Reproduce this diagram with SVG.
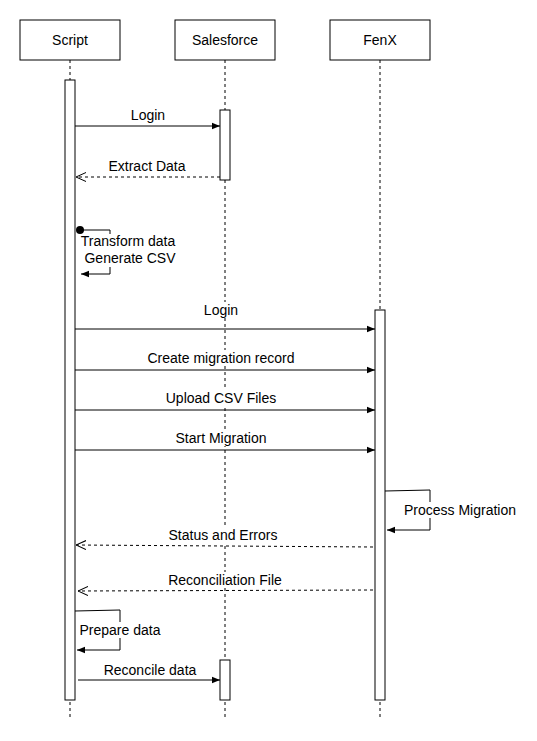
<svg xmlns="http://www.w3.org/2000/svg" width="537" height="741" viewBox="0 0 537 741">
<style>
text{font-family:"Liberation Sans",Arial,sans-serif;font-size:14px;fill:#000;text-anchor:middle}
.box{fill:#fff;stroke:#000;stroke-width:1}
.life{stroke:#000;stroke-width:1;stroke-dasharray:3,3;fill:none}
.msg{stroke:#000;stroke-width:1;fill:none}
.ret{stroke:#000;stroke-width:1;fill:none;stroke-dasharray:3,3}
.bg{fill:#fff;stroke:none}
</style>
<defs>
<marker id="fa" viewBox="0 0 10 10" refX="10" refY="5" markerWidth="8" markerHeight="8" orient="auto" markerUnits="userSpaceOnUse"><path d="M0,1 L10,5 L0,9 Z" fill="#000"/></marker>
<marker id="oa" viewBox="0 0 10 10" refX="10" refY="5" markerWidth="10" markerHeight="10" orient="auto" markerUnits="userSpaceOnUse"><path d="M0,0.5 L10,5 L0,9.5" fill="none" stroke="#000" stroke-width="1"/></marker>
</defs>
<g id="lifelines">
<line class="life" x1="70" y1="60" x2="70" y2="718"/>
<line class="life" x1="225" y1="60" x2="225" y2="718"/>
<line class="life" x1="380" y1="60" x2="380" y2="718"/>
</g>
<g id="script"><rect class="box" x="20" y="20" width="100" height="40"/><text x="70" y="45">Script</text></g>
<g id="salesforce"><rect class="box" x="175" y="20" width="100" height="40"/><text x="225" y="45">Salesforce</text></g>
<g id="fenx"><rect class="box" x="330" y="20" width="100" height="40"/><text x="380" y="45">FenX</text></g>
<g id="activations">
<rect class="box" x="65" y="80" width="10" height="620"/>
<rect class="box" x="220" y="110" width="10" height="70"/>
<rect class="box" x="220" y="660" width="10" height="40"/>
<rect class="box" x="375" y="310" width="10" height="390"/>
</g>
<g id="connectors">
<line class="msg" x1="75" y1="126" x2="220" y2="126" marker-end="url(#fa)"/>
<line class="ret" x1="220" y1="177" x2="76" y2="177" marker-end="url(#oa)"/>
<circle cx="80" cy="230" r="4" fill="#000"/>
<polyline class="msg" points="80,230 110,230 110,274 81,274" marker-end="url(#fa)"/>
<line class="msg" x1="75" y1="329" x2="375" y2="329" marker-end="url(#fa)"/>
<line class="msg" x1="75" y1="370" x2="375" y2="370" marker-end="url(#fa)"/>
<line class="msg" x1="75" y1="410" x2="375" y2="410" marker-end="url(#fa)"/>
<line class="msg" x1="75" y1="450" x2="375" y2="450" marker-end="url(#fa)"/>
<polyline class="msg" points="385,491 430,490 430,530 387,530" marker-end="url(#fa)"/>
<line class="ret" x1="373" y1="547" x2="76" y2="545" marker-end="url(#oa)"/>
<line class="ret" x1="373" y1="590" x2="78" y2="591" marker-end="url(#oa)"/>
<polyline class="msg" points="75,611 120,610 120,650 77,650" marker-end="url(#fa)"/>
<line class="msg" x1="78" y1="680" x2="220" y2="680" marker-end="url(#fa)"/>
</g>
<g id="labels">
<rect class="bg" x="129" y="107" width="38" height="16"/><text x="148" y="120">Login</text>
<rect class="bg" x="108" y="158" width="78" height="16"/><text x="147" y="171">Extract Data</text>
<rect class="bg" x="81" y="234" width="95" height="33"/>
<text x="128" y="246">Transform data</text>
<text x="130" y="263">Generate CSV</text>
<rect class="bg" x="203" y="302" width="36" height="16"/><text x="221" y="315">Login</text>
<rect class="bg" x="144" y="350" width="154" height="16"/><text x="221" y="363">Create migration record</text>
<rect class="bg" x="166" y="390" width="110" height="16"/><text x="221" y="403">Upload CSV Files</text>
<rect class="bg" x="172" y="430" width="98" height="16"/><text x="221" y="443">Start Migration</text>
<rect class="bg" x="403" y="502" width="114" height="16"/><text x="460" y="515">Process Migration</text>
<rect class="bg" x="168" y="527" width="110" height="16"/><text x="223" y="540">Status and Errors</text>
<rect class="bg" x="167" y="572" width="117" height="16"/><text x="225" y="585">Reconciliation File</text>
<rect class="bg" x="79" y="622" width="82" height="16"/><text x="120" y="635">Prepare data</text>
<rect class="bg" x="103" y="662" width="94" height="16"/><text x="150" y="675">Reconcile data</text>
</g>
</svg>
